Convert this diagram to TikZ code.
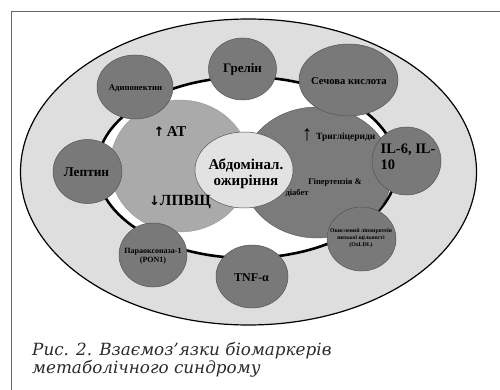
\documentclass[tikz,border=0pt]{standalone}
\usepackage{fontspec}
\setmainfont{Liberation Serif}
\newfontfamily\capfont{DejaVu Serif}
\newfontfamily\arrfont{DejaVu Sans}
\usetikzlibrary{shapes.geometric}
\definecolor{outerfill}{HTML}{DEDEDE}
\definecolor{atfill}{HTML}{AAAAAA}
\definecolor{darkfill}{HTML}{7B7B7B}
\definecolor{bubfill}{HTML}{797979}
\definecolor{centerfill}{HTML}{E2E2E2}
\definecolor{edgegray}{HTML}{555555}
\definecolor{framegray}{HTML}{666666}
\definecolor{capgray}{HTML}{2A2A2A}
\begin{document}
\begin{tikzpicture}[x=1pt,y=-1pt,
  shapeel/.style={ellipse, inner sep=0pt, outer sep=0pt},
  bubble/.style={shapeel, draw=edgegray, line width=0.5pt, fill=bubfill},
  lbl/.style={inner sep=0pt, align=center, text=black},
  fs/.style={font=\bfseries\fontsize{#1}{#1}\selectfont},
  captxt/.style={inner sep=0pt, anchor=base west, text=capgray, font=\capfont\itshape\fontsize{16.8}{18}\selectfont}
]
\useasboundingbox (0,0) rectangle (500,390);
% frame
\draw[framegray, line width=0.8pt] (11,390) -- (11,11) -- (500,11);
% outer ellipse
\node[shapeel, draw=black, line width=1.2pt, fill=outerfill, minimum width=456, minimum height=306] (outer) at (248.5,172) {};
% ring
\node[shapeel, draw=black, line width=2.6pt, fill=white, minimum width=300, minimum height=181] (ring) at (247,167.5) {};
% AT ellipse
\node[shapeel, draw=edgegray!60, line width=0.4pt, fill=atfill, minimum width=140, minimum height=132] (at) at (180,166) {};
% dark ellipse
\node[shapeel, draw=edgegray, line width=0.4pt, fill=darkfill, minimum width=150, minimum height=131] (dark) at (317,172.5) {};
% labels inside dark
\node[lbl, fs=8.5] (hyp1) at (335,182) {Гіпертензія \&};
\node[lbl, fs=8.5] (hyp2) at (297,193) {діабет};
% center
\node[shapeel, draw=edgegray, line width=0.5pt, fill=centerfill, minimum width=98, minimum height=76] (center) at (244,170) {};
\node[lbl, fs=15] (tcenter) at (246,174) {Абдомінал.\\[1pt]ожиріння};
% bubbles
\node[bubble, minimum width=68, minimum height=62] (grelin) at (242.5,69) {};
\node[bubble, minimum width=76, minimum height=64] (adipo) at (135,87) {};
\node[bubble, minimum width=99, minimum height=72] (sech) at (348.5,80) {};
\node[bubble, minimum width=69, minimum height=64] (leptin) at (87.5,171.5) {};
\node[bubble, minimum width=69, minimum height=68] (il) at (406.5,161) {};
\node[bubble, minimum width=69, minimum height=64] (oxldl) at (361.5,239) {};
\node[bubble, minimum width=72, minimum height=63] (tnf) at (252,276.5) {};
\node[bubble, minimum width=68, minimum height=64] (pon) at (153,255) {};
% bubble texts
\node[lbl, fs=13] (tgrelin) at (grelin) {Грелін};
\node[lbl, fs=8.7] (tadipo) at (135.5,88) {Адипонектин};
\node[lbl, fs=10.6] (tsech) at (349,81) {Сечова кислота};
\node[lbl, fs=13.3] (tleptin) at (86.5,172) {Лептин};
\node[lbl, fs=14.5, align=left] (til) at (408,157) {IL-6, IL-\\[2pt]10};
\node[lbl, fs=5.8] (toxldl) at (361,238) {Окислений ліпопротеїн\\[1.5pt]низької щільності\\[1.5pt](OxLDL)};
\node[lbl, fs=12] (ttnf) at (251.5,277.5) {TNF-α};
\node[lbl, fs=8] (tpon) at (153,256) {Параоксоназа-1\\[1.5pt](PON1)};
% arrows texts
\node[lbl, fs=15] (tat) at (170,132) {{\arrfont\fontsize{13}{13}\selectfont ↑}\,АТ};
\node[lbl, fs=15.5] (thdl) at (180,202) {{\arrfont\fontsize{13}{13}\selectfont ↓}ЛПВЩ};
\node[lbl, font=\fontsize{21}{21}\selectfont] (uparr) at (307,135) {↑};
\node[lbl, fs=9.5, anchor=west] (ttrig) at (316,137.5) {Тригліцериди};
% caption
\node[captxt] (cap1) at (32,355) {Рис. 2. Взаємоз’язки біомаркерів};
\node[captxt] (cap2) at (32,373) {метаболічного синдрому};
\end{tikzpicture}
\end{document}
